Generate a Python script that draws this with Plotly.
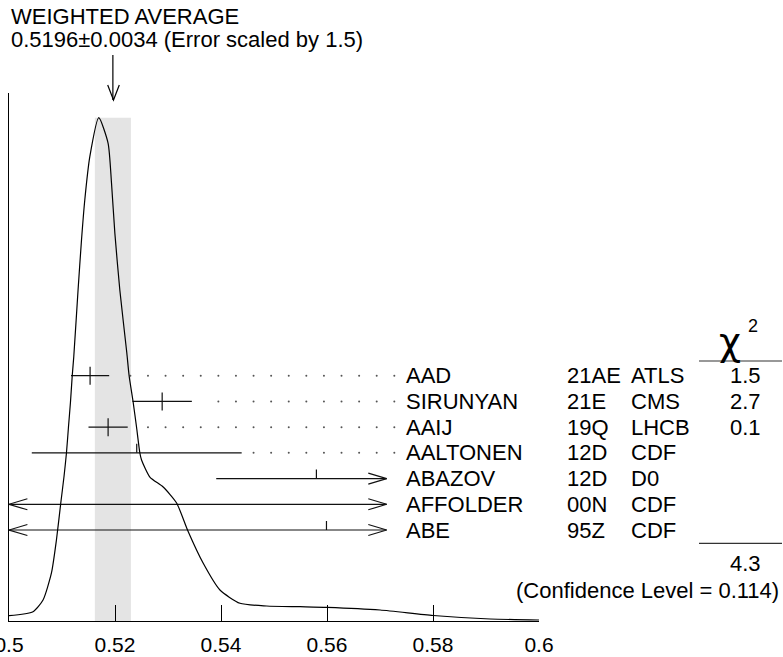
import numpy as np
import plotly.graph_objects as go

# ---------------- data ----------------
names = ["AAD", "SIRUNYAN", "AAIJ", "AALTONEN", "ABAZOV", "AFFOLDER", "ABE"]
codes = ["21AE", "21E", "19Q", "12D", "12D", "00N", "95Z"]
experiments = ["ATLS", "CMS", "LHCB", "CDF", "D0", "CDF", "CDF"]
values = [0.5153, 0.5289, 0.5187, 0.5241, 0.5580, 0.5850, 0.5599]
errors = [0.0036, 0.0056, 0.0037, 0.0198, 0.0189, 0.1000, 0.0800]
chi2 = [1.5, 2.7, 0.1, None, None, None, None]
chi2_total = 4.3
conf_level = 0.114

avg_value = 0.5196
avg_error = 0.0034
error_scale = 1.5

tick_vals = [0.5, 0.52, 0.54, 0.56, 0.58, 0.6]
tick_text = ["0.5", "0.52", "0.54", "0.56", "0.58", "0.6"]

# ideogram curve (relative height, peak = 1)
curve_x = [0.5000, 0.50453, 0.50642, 0.50801, 0.50895, 0.50977, 0.51039, 0.51084,
           0.51122, 0.51160, 0.51194, 0.51222, 0.51303, 0.51368, 0.51430, 0.51525,
           0.51694, 0.51870, 0.51934, 0.51997, 0.52091, 0.52223, 0.52267, 0.52342,
           0.52406, 0.52469, 0.52501, 0.52658, 0.52909, 0.53162, 0.53376, 0.53665,
           0.53980, 0.54358, 0.54862, 0.55491, 0.56001, 0.57002, 0.58003, 0.59080,
           0.60000]
curve_h = [0.0105, 0.0185, 0.0417, 0.0954, 0.1609, 0.2345, 0.2881, 0.3338,
           0.3854, 0.4351, 0.4888, 0.5251, 0.6577, 0.7570, 0.8365, 0.9225,
           1.0000, 0.9491, 0.8703, 0.7709, 0.6577, 0.5325, 0.4868, 0.4351,
           0.3854, 0.3338, 0.3199, 0.2861, 0.2662, 0.2345, 0.1788, 0.1146,
           0.0616, 0.0352, 0.0298, 0.0284, 0.0272, 0.0219, 0.0109, 0.0040,
           0.0020]

# ---------------- layout constants ----------------
W, H = 783, 657
ML, MR, MT, MB = 9, 244, 93, 36
PW = W - ML - MR
PH = H - MT - MB
XMIN, XMAX = 0.5, 0.6
PEAK = 503.3            # curve peak height in y units (1 unit = 1 px)
ROW0 = 245.3            # y of first row
ROW_STEP = 25.72
CLIP_L, CLIP_R = 0.5, 0.57126
ARROW_DX = 0.00347
ARROW_DY = 5.5
TICK_H = 9
DOT_LAST = 0.5727
DOT_STEP = 0.00332
DOT_GAP = 0.0019
FONT = "Liberation Sans, Arial, sans-serif"
FS = 22


def px(xp):
    return (xp - ML) / PW


def py(yp):
    return (H - MB - yp) / PH


fig = go.Figure()

row_y = [ROW0 - i * ROW_STEP for i in range(len(names))]

bx, by = [], []
tx, ty = [], []
dx, dy = [], []
for v, e, y, c in zip(values, errors, row_y, chi2):
    lo, hi = v - e, v + e
    l, r = max(lo, CLIP_L), min(hi, CLIP_R)
    bx += [l, r, None]
    by += [y, y, None]
    if hi > CLIP_R:
        bx += [r - ARROW_DX, r, r - ARROW_DX, None]
        by += [y + ARROW_DY, y, y - ARROW_DY, None]
    if lo < CLIP_L:
        bx += [l + ARROW_DX, l, l + ARROW_DX, None]
        by += [y + ARROW_DY, y, y - ARROW_DY, None]
    if CLIP_L <= v <= CLIP_R:
        tx += [v, v, None]
        if c is not None:
            ty += [y - TICK_H, y + TICK_H, None]
        else:
            ty += [y, y + TICK_H, None]
    if hi <= CLIP_R:
        d = DOT_LAST
        while d > hi + DOT_GAP:
            dx.append(d)
            dy.append(y)
            d -= DOT_STEP

fig.add_trace(go.Scatter(x=bx, y=by, mode="lines",
                         line=dict(color="#111", width=1.2), hoverinfo="skip"))
fig.add_trace(go.Scatter(x=tx, y=ty, mode="lines",
                         line=dict(color="#111", width=1.2), hoverinfo="skip"))
fig.add_trace(go.Scatter(x=dx, y=dy, mode="markers",
                         marker=dict(color="#555", size=2), hoverinfo="skip"))
fig.add_trace(go.Scatter(x=curve_x, y=[h * PEAK for h in curve_h], mode="lines",
                         line=dict(color="black", width=1.2, shape="spline", smoothing=0.6),
                         hoverinfo="skip"))

shapes = []
# shaded band of the weighted average
shapes.append(dict(type="rect", xref="x", yref="y", x0=avg_value - avg_error,
                   x1=avg_value + avg_error, y0=0, y1=PEAK, fillcolor="#e4e4e4",
                   line=dict(width=0), layer="below"))
# top arrow
shapes.append(dict(type="line", xref="x", yref="paper", x0=avg_value, x1=avg_value,
                   y0=py(55), y1=py(100), line=dict(color="black", width=1.2)))
shapes.append(dict(type="path", xref="paper", yref="paper",
                   path=f"M {px(107.7)} {py(85)} L {px(113.5)} {py(100)} L {px(119.3)} {py(85)}",
                   line=dict(color="black", width=1.2)))
# chi2 column rules
for yy in (361, 543.3):
    shapes.append(dict(type="line", xref="paper", yref="paper", x0=px(699), x1=px(782),
                       y0=py(yy), y1=py(yy), line=dict(color="#333", width=1.2)))

annotations = []


def txt(text, x, y, xanchor="left", size=FS, yref="paper", family=FONT):
    annotations.append(dict(text=text, x=x, y=y, xref="paper", yref=yref,
                            xanchor=xanchor, yanchor="middle", showarrow=False,
                            font=dict(family=family, size=size, color="black")))


txt("WEIGHTED AVERAGE", px(9), py(16))
txt(f"{avg_value:.4f}\u00b1{avg_error:.4f} (Error scaled by {error_scale})", px(9), py(39.5))

for n, cd, ex, c, y in zip(names, codes, experiments, chi2, row_y):
    txt(n, px(404), y, yref="y")
    txt(cd, px(565), y, yref="y")
    txt(ex, px(629), y, yref="y")
    if c is not None:
        txt(f"{c:.1f}", px(745), y, xanchor="center", yref="y")

txt("\u03c7", px(730), py(342), xanchor="center", size=38, family="DejaVu Sans")
txt("2", px(753), py(326), xanchor="center", size=18)
txt(f"{chi2_total:.1f}", px(745), py(563.3), xanchor="center")
txt(f"(Confidence Level = {conf_level:.3f})", px(781), py(590.7), xanchor="right")

fig.update_layout(
    width=W, height=H,
    margin=dict(l=ML, r=MR, t=MT, b=MB, autoexpand=False),
    paper_bgcolor="white", plot_bgcolor="white",
    showlegend=False,
    shapes=shapes, annotations=annotations,
    font=dict(family=FONT, size=FS, color="black"),
    xaxis=dict(range=[XMIN, XMAX], tickvals=tick_vals, ticktext=tick_text,
               ticks="inside", ticklen=16, tickwidth=1.2, tickcolor="black",
               ticklabelstandoff=5, ticklabeloverflow="allow",
               showline=True, linecolor="black", linewidth=1.2,
               showgrid=False, zeroline=False, mirror=False,
               tickfont=dict(family=FONT, size=FS - 1, color="black")),
    yaxis=dict(range=[0, PH], showline=True, linecolor="black", linewidth=1.2,
               showgrid=False, zeroline=False, showticklabels=False, ticks=""),
)

fig.write_html("out.html", config={"displayModeBar": False},
               post_script="document.body.style.margin='0';")
